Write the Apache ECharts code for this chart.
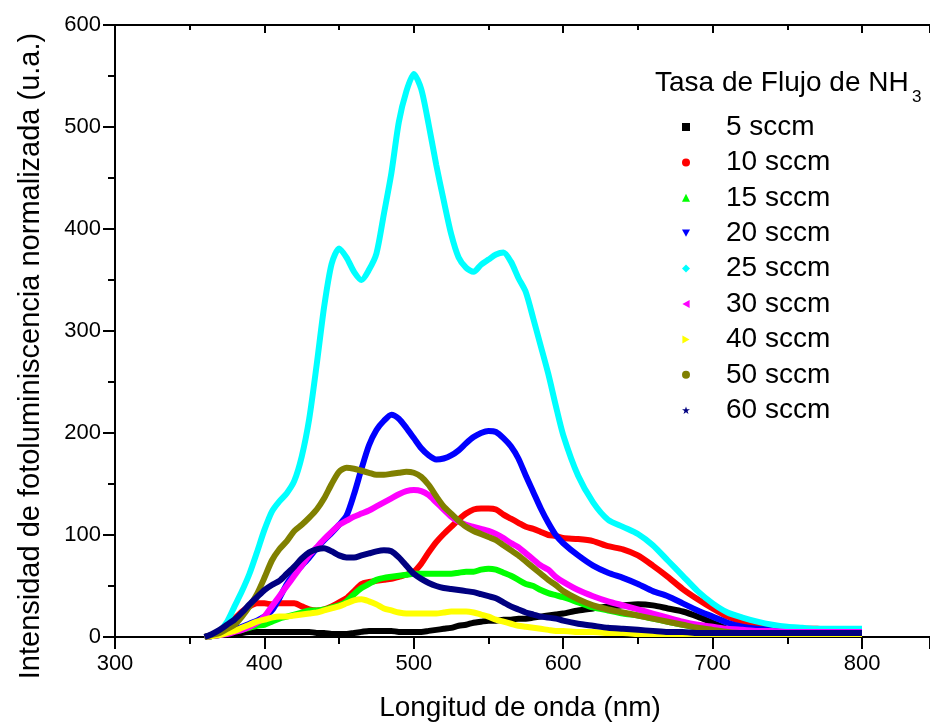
<!DOCTYPE html>
<html>
<head>
<meta charset="utf-8">
<script src="https://cdn.jsdelivr.net/npm/echarts@6/dist/echarts.min.js"></script>
<style>
html,body{margin:0;padding:0;background:#fff;}
#chart{width:930px;height:726px;}
</style>
</head>
<body>
<div id="chart"></div>
<script>
// Wavelength grid (nm)
var wavelengths = [360,365,370,375,380,385,390,395,400,405,410,415,420,425,430,435,440,445,450,455,460,465,470,475,480,485,490,495,500,505,510,515,520,525,530,535,540,545,550,555,560,565,570,575,580,585,590,595,600,
610,620,630,640,650,660,670,680,690,700,710,720,730,740,750,760,770,780,790,800];

var seriesNames = ['5 sccm','10 sccm','15 sccm','20 sccm','25 sccm','30 sccm','40 sccm','50 sccm','60 sccm'];

var s5 = [0,1,2,3,4,4,5,5,5,5,5,5,5,5,5,4,4,3,3,3,4,5,6,6,6,6,5,5,5,5,6,7,8,9,11,12,14,15,16,16,17,17,18,18,19,20,21,22,23,
26,28,30,31,32,31,28,25,20,14,8,5,4,3,3,3,3,3,3,3];
var s10 = [0,2,5,11,18,25,30,33,33,32,33,33,33,30,27,26,27,30,34,38,45,52,54,55,56,57,59,61,64,72,83,93,101,108,115,121,125,126,126,125,120,116,112,108,106,103,100,99,97,
96,94,89,86,80,70,59,47,37,28,20,15,12,10,9,8,8,7,7,7];
var s15 = [0,1,3,4,6,7,9,11,12,15,18,20,22,24,26,26,27,29,31,35,42,48,52,56,58,59,60,61,62,62,62,62,62,62,63,64,64,66,67,66,63,60,56,52,50,46,43,41,39,
34,29,26,23,21,18,15,12,9,7,5,4,3,3,3,3,3,3,3,3];
var s20 = [0,1,2,4,7,10,13,16,20,26,38,52,62,70,78,87,95,102,110,119,140,165,188,203,212,218,214,205,195,185,178,174,175,178,183,190,196,200,202,201,195,187,175,158,142,126,112,100,92,
80,70,63,58,52,45,40,33,26,20,14,10,8,7,6,6,5,5,5,5];
var s25 = [0,2,6,15,30,45,62,83,105,123,133,141,153,177,214,267,324,366,381,372,358,350,360,376,415,455,505,535,552,537,502,463,428,395,372,362,358,365,370,375,377,368,352,338,312,285,258,227,198,
158,132,115,108,101,90,75,60,45,33,24,19,15,12,10,9,8,8,8,8];
var s30 = [0,1,2,3,5,7,10,14,20,30,40,50,60,70,80,88,96,103,110,114,118,121,124,128,132,136,140,143,144,143,139,132,125,118,113,110,108,106,104,101,97,92,88,82,76,70,66,59,54,
46,40,35,31,27,23,19,15,12,10,8,7,6,6,5,5,5,5,5,5];
var s40 = [0,1,2,4,6,9,12,15,17,19,20,20,21,22,23,24,26,28,30,33,36,37,35,32,28,26,24,23,23,23,23,23,24,25,25,25,24,22,20,17,15,13,11,10,9,8,7,6,6,
5,5,4,4,3,3,3,3,3,3,3,3,3,3,3,3,3,3,3,3];
var s50 = [0,2,4,8,12,20,30,42,58,75,86,94,104,110,117,125,136,150,162,166,165,163,161,159,159,160,161,162,161,157,149,138,128,121,114,108,104,101,98,95,90,85,80,74,68,62,56,51,45,
37,31,27,24,21,18,15,12,9,7,5,4,4,4,4,4,4,4,4,4];
var s60 = [0,3,7,12,17,24,32,39,46,51,55,62,69,77,83,86,87,84,80,78,78,80,82,84,85,84,78,70,62,57,53,50,48,47,46,45,44,42,40,38,34,30,27,24,22,20,19,18,16,
13,11,9,8,7,6,5,5,4,4,4,4,4,4,4,4,4,4,4,4];

var xTicks = [300,400,500,600,700,800];
var yTicks = [0,100,200,300,400,500,600];

var allValues = [s5,s10,s15,s20,s25,s30,s40,s50,s60];
var colors = ['#000000','#ff0000','#00ff00','#0000ff','#00ffff','#ff00ff','#ffff00','#808000','#000080'];
var icons = [
  'rect',
  'circle',
  'triangle',
  'path://M0,0 L10,0 L5,9 Z',
  'diamond',
  'path://M0,5 L9,0 L9,10 Z',
  'path://M9,5 L0,0 L0,10 Z',
  'circle',
  'path://M5,0 L6.2,3.6 L10,3.6 L6.9,5.9 L8.1,9.5 L5,7.3 L1.9,9.5 L3.1,5.9 L0,3.6 L3.8,3.6 Z'
];

var FONT = 'Liberation Sans, Arial, sans-serif';

var series = allValues.map(function(vals, i){
  return {
    name: seriesNames[i],
    type: 'line',
    xAxisIndex: 0,
    data: wavelengths.map(function(x, j){ return [x, vals[j]]; }),
    smooth: 0.25,
    symbol: 'none',
    lineStyle: {color: colors[i], width: 6},
    itemStyle: {color: colors[i]},
    animation: false,
    z: 2
  };
});

var chart = echarts.init(document.getElementById('chart'), null, {renderer:'canvas'});
chart.setOption({
  backgroundColor: '#ffffff',
  animation: false,
  grid: {left: 115, top: 25, right: 0, bottom: 89, containLabel: false},
  xAxis: [{
    type: 'value', min: 300, max: 845.5, interval: 100,
    axisLine: {show: true, onZero: false, lineStyle: {color: '#000', width: 2}},
    axisTick: {show: true, inside: false, length: 12, lineStyle: {color: '#000', width: 2}},
    minorTick: {show: true, splitNumber: 2, length: 7, lineStyle: {color: '#000', width: 2}},
    splitLine: {show: false},
    axisLabel: {show: true, margin: 16, fontSize: 22, color: '#000', fontFamily: FONT, showMaxLabel: false,
      formatter: function(v){ return xTicks.indexOf(v) >= 0 ? String(v) : ''; }}
  },{
    type: 'value', min: 300, max: 845.5, interval: 100, position: 'top',
    axisLine: {show: true, onZero: false, lineStyle: {color: '#000', width: 2}},
    axisTick: {show: true, inside: true, length: 8, lineStyle: {color: '#000', width: 2}},
    minorTick: {show: true, splitNumber: 2, length: 5, lineStyle: {color: '#000', width: 2}},
    splitLine: {show: false},
    axisLabel: {show: false}
  }],
  yAxis: [{
    type: 'value', min: 0, max: 600, interval: 100,
    axisLine: {show: true, onZero: false, lineStyle: {color: '#000', width: 2}},
    axisTick: {show: true, inside: false, length: 12, lineStyle: {color: '#000', width: 2}},
    minorTick: {show: true, splitNumber: 2, length: 7, lineStyle: {color: '#000', width: 2}},
    splitLine: {show: false},
    axisLabel: {show: true, margin: 14, fontSize: 22, color: '#000', fontFamily: FONT,
      formatter: function(v){ return yTicks.indexOf(v) >= 0 ? String(v) : ''; }}
  }],
  legend: {
    show: true,
    orient: 'vertical',
    left: 682,
    top: 113,
    padding: 0,
    itemWidth: 8,
    itemHeight: 8,
    itemGap: 7.4,
    data: seriesNames.map(function(n, i){ return {name: n, icon: icons[i], itemStyle: {color: colors[i]}}; }),
    textStyle: {fontSize: 28, lineHeight: 28, color: '#000', fontFamily: FONT, padding: [0,0,0,31]},
    selectedMode: false
  },
  graphic: [
    {type: 'text', left: 655, top: 69, style: {text: 'Tasa de Flujo de NH', font: '28px ' + FONT, fill: '#000'}},
    {type: 'text', left: 912, top: 89, style: {text: '3', font: '17px ' + FONT, fill: '#000'}},
    {type: 'text', x: 520, y: 708, style: {text: 'Longitud de onda (nm)', font: '28px ' + FONT, fill: '#000', textAlign: 'center', textVerticalAlign: 'middle'}},
    {type: 'text', x: 31, y: 356, rotation: Math.PI/2, style: {text: 'Intensidad de fotoluminiscencia normalizada (u.a.)', font: '29px ' + FONT, fill: '#000', textAlign: 'center', textVerticalAlign: 'middle'}}
  ],
  series: series
});
</script>
</body>
</html>
